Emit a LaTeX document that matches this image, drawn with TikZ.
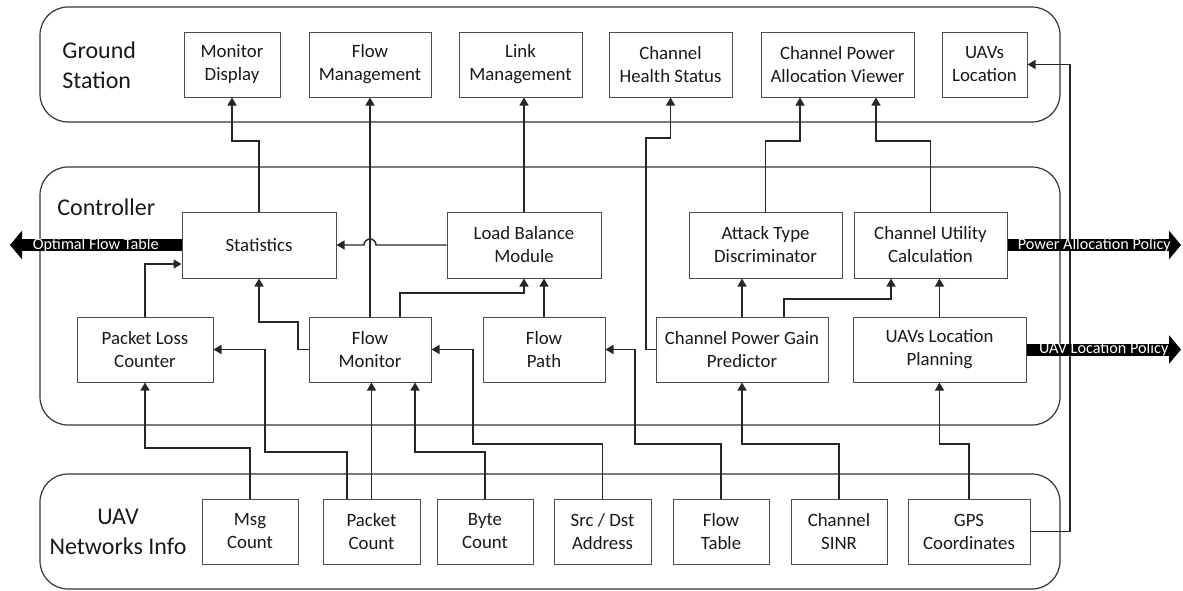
\documentclass[tikz,border=0pt]{standalone}
\usepackage{fontspec}
\setmainfont{Carlito}
\usetikzlibrary{arrows.meta}

\tikzset{
  group/.style={draw=black!80, line width=0.6pt, rounded corners=14pt, minimum width=510pt},
  grouplabel/.style={font=\fontsize{12}{15}\selectfont, inner sep=0pt, text=black!90},
  box/.style={draw=black!70, fill=white, line width=0.5pt, minimum height=32.5pt, inner sep=1pt, align=center, text=black!90, font=\fontsize{9.4}{11.5}\selectfont},
  link/.style={draw=black!85, line width=0.7pt, -{Triangle[width=4.5pt,length=4pt]}},
  bigarrow/.style={line width=6pt, -{Triangle[width=14pt,length=6pt]}},
  arrowtext/.style={text=white, font=\fontsize{8.1}{9}\selectfont, inner sep=0pt}
}

\begin{document}
\begin{tikzpicture}[x=0.5pt, y=-0.5pt]
    \useasboundingbox (0,0) rectangle (1183,590);

    % the three layers
    \node[group, minimum height=57.5pt] (gs) at (550,64.5) {};
    \node[group, minimum height=129pt] (ctrl) at (550,296) {};
    \node[group, minimum height=57.5pt] (uav) at (550,531.5) {};
    \node[grouplabel, anchor=west, align=left] (gslabel) at (62,65) {Ground\\Station};
    \node[grouplabel, anchor=west] (ctrllabel) at (57,207) {Controller};
    \node[grouplabel, align=center] (uavlabel) at (118,531.5) {UAV\\Networks Info};

    % ground station
    \node[box, minimum width=48pt] (md) at (232,64.5) {Monitor\\Display};
    \node[box, minimum width=61pt] (fm) at (370,64.5) {Flow\\Management};
    \node[box, minimum width=61.5pt] (lm) at (520.5,64.5) {Link\\Management};
    \node[box, minimum width=61.5pt] (chs) at (670.5,64.5) {Channel\\Health Status};
    \node[box, minimum width=76.5pt] (cpav) at (837.5,64.5) {Channel Power\\Allocation Viewer};
    \node[box, minimum width=42.5pt] (uloc) at (984.5,64.5) {UAVs\\Location};

    % controller
    \node[box, minimum width=77pt, minimum height=33pt] (stat) at (259,245) {Statistics};
    \node[box, minimum width=77pt, minimum height=33pt] (lb) at (524,245) {Load Balance\\Module};
    \node[box, minimum width=76.5pt, minimum height=33pt] (atd) at (765.5,245) {Attack Type\\Discriminator};
    \node[box, minimum width=76.5pt, minimum height=33pt] (cuc) at (930.5,245) {Channel Utility\\Calculation};
    \node[box, minimum width=68pt] (plc) at (145,349.5) {Packet Loss\\Counter};
    \node[box, minimum width=61pt] (fmon) at (370,349.5) {Flow\\Monitor};
    \node[box, minimum width=61pt] (fp) at (544,349.5) {Flow\\Path};
    \node[box, minimum width=86pt] (cpgp) at (742,349.5) {Channel Power Gain\\Predictor};
    \node[box, minimum width=86.5pt] (ulp) at (939.5,349.5) {UAVs Location\\Planning};

    % uav networks info
    \node[box, minimum width=48pt] (msg) at (250,531.5) {Msg\\Count};
    \node[box, minimum width=48.5pt] (pkt) at (371.5,531.5) {Packet\\Count};
    \node[box, minimum width=48pt] (byte) at (485,531.5) {Byte\\Count};
    \node[box, minimum width=48.5pt] (addr) at (602.5,531.5) {Src / Dst\\Address};
    \node[box, minimum width=48pt] (ftab) at (721,531.5) {Flow\\Table};
    \node[box, minimum width=48pt] (sinr) at (839,531.5) {Channel\\SINR};
    \node[box, minimum width=61pt] (gps) at (969,531.5) {GPS\\Coordinates};

    % controller -> ground station
    \draw[link] (stat.north) |- (md.south |- 0,141) -- (md.south);
    \draw[link] (fmon.north) -- (fm.south);
    \draw[link] (lb.north) -- (lb.north |- lm.south);
    \draw[link] (cpgp.west) -| (646,138) -| (chs.south);
    \draw[link] (atd.north) |- (800,141) -- (800,141 |- cpav.south);
    \draw[link] (cuc.north) |- (876,141) -- (876,141 |- cpav.south);
    \draw[link] (gps.east) -| (uloc.east -| 1070,0) -- (uloc.east);

    % inside the controller
    \draw[link] (lb.west) -- ([xshift=3pt]fmon.north |- lb.west) arc[start angle=0, end angle=180, radius=3pt] -- (stat.east);
    \draw[link] (plc.north) |- ([yshift=-9.5pt]stat.west);
    \draw[link] (fmon.west) -| (298,322) -| (stat.south);
    \draw[link] ([xshift=15pt]fmon.north) |- (lb.south |- 0,293) -- (lb.south);
    \draw[link] (fp.north) -- (fp.north |- lb.south);
    \draw[link] (cpgp.north) -- (cpgp.north |- atd.south);
    \draw[link] ([xshift=21pt]cpgp.north) |- (891,299) -- (891,299 |- cuc.south);
    \draw[link] (ulp.north) -- (ulp.north |- cuc.south);

    % uav networks info -> controller
    \draw[link] (msg.north) |- (plc.south |- 0,448) -- (plc.south);
    \draw[link] ([xshift=-12.25pt]pkt.north) |- (265,452) |- (plc.east);
    \draw[link] (pkt.north) -- (pkt.north |- fmon.south);
    \draw[link] (byte.north) |- (415,452) -- (415,452 |- fmon.south);
    \draw[link] (addr.north) |- (473,444) |- (fmon.east);
    \draw[link] (ftab.north) |- (635,444) |- (fp.east);
    \draw[link] (sinr.north) |- (cpgp.south |- 0,444) -- (cpgp.south);
    \draw[link] (gps.north) |- (ulp.south |- 0,444) -- (ulp.south);

    % policy outputs
    \coordinate (oftend) at (10,245);
    \coordinate (papend) at (1181,245);
    \coordinate (ulpend) at (1181,349.5);
    \draw[bigarrow] (stat.west) -- node[arrowtext] {Optimal Flow Table} (oftend);
    \draw[bigarrow] (cuc.east) -- node[arrowtext] {Power Allocation Policy} (papend);
    \draw[bigarrow] (ulp.east) -- node[arrowtext] {UAV Location Policy} (ulpend);
\end{tikzpicture}
\end{document}
